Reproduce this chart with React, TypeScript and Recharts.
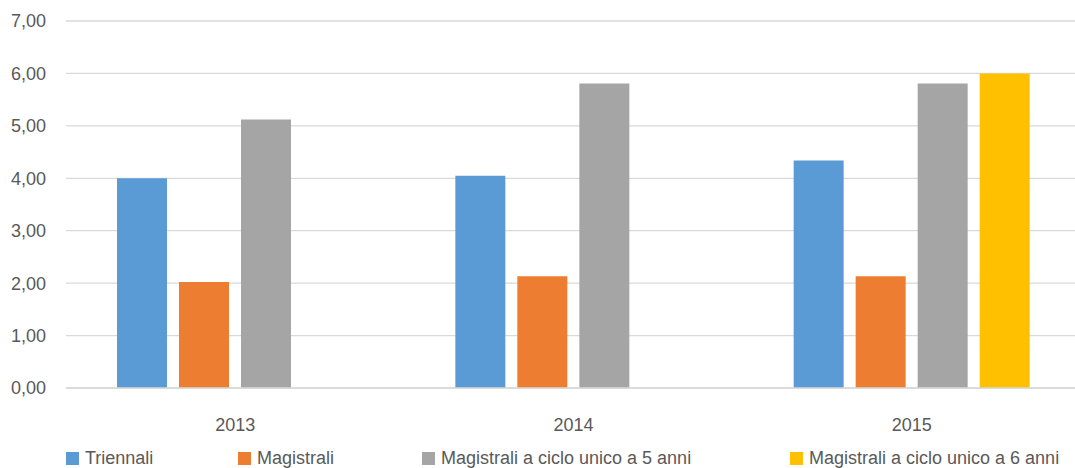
import React from 'react'
import { BarChart, Bar, XAxis, YAxis, CartesianGrid, Legend } from 'recharts'

const years = ['2013', '2014', '2015']
const triennali = [4.0, 4.05, 4.34]
const magistrali = [2.02, 2.13, 2.13]
const cicloUnico5 = [5.12, 5.81, 5.81]
const cicloUnico6: (number | null)[] = [null, null, 6.0]
const yTicks = [0, 1, 2, 3, 4, 5, 6, 7]

const series = [
  { key: 'triennali', name: 'Triennali', color: '#5B9BD5' },
  { key: 'magistrali', name: 'Magistrali', color: '#ED7D31' },
  { key: 'cu5', name: 'Magistrali a ciclo unico a 5 anni', color: '#A5A5A5' },
  { key: 'cu6', name: 'Magistrali a ciclo unico a 6 anni', color: '#FFC000' },
]

const data = years.map((year, i) => ({
  year,
  triennali: triennali[i],
  magistrali: magistrali[i],
  cu5: cicloUnico5[i],
  cu6: cicloUnico6[i],
}))

const FONT = '"Liberation Sans", Arial, sans-serif'
// excel spaces the legend entries unevenly
const legendSlots = [172, 184, 368, 285]

const renderLegend = () => (
  <div
    style={{
      display: 'flex',
      paddingLeft: 66,
      fontFamily: FONT,
      fontSize: 18,
      color: '#595959',
      lineHeight: '20px',
      whiteSpace: 'nowrap',
    }}
  >
    {series.map((s, i) => (
      <div key={s.key} style={{ display: 'flex', alignItems: 'center', width: legendSlots[i], flex: 'none' }}>
        <span style={{ width: 13, height: 13, background: s.color, display: 'inline-block', marginRight: 6 }} />
        <span>{s.name}</span>
      </div>
    ))}
  </div>
)

const App: React.FC = () => {
  return (
    <div style={{ position: 'absolute', left: 0, top: 0, width: 1075, height: 468, overflow: 'hidden', background: '#fff' }}>
      <BarChart
        width={1081}
        height={468}
        data={data}
        margin={{ top: 21, right: 0, left: 0, bottom: 0 }}
        barCategoryGap={51}
        barGap={12}
      >
        <CartesianGrid vertical={false} stroke="#D9D9D9" strokeWidth={1.3} />
        <XAxis
          dataKey="year"
          axisLine={{ stroke: '#D9D9D9', strokeWidth: 1.3 }}
          tickLine={false}
          tick={{ fill: '#595959', fontSize: 18, fontFamily: FONT }}
          tickMargin={24}
          height={60}
        />
        <YAxis
          domain={[0, 7]}
          ticks={yTicks}
          axisLine={false}
          tickLine={false}
          width={66}
          tickMargin={14}
          tickFormatter={(v: number) => v.toFixed(2).replace('.', ',')}
          tick={{ fill: '#595959', fontSize: 18, fontFamily: FONT }}
        />
        <Legend verticalAlign="bottom" content={renderLegend} wrapperStyle={{ bottom: 0 }} />
        {series.map((s) => (
          <Bar key={s.key} dataKey={s.key} name={s.name} fill={s.color} isAnimationActive={false} />
        ))}
      </BarChart>
    </div>
  )
}

export default App
